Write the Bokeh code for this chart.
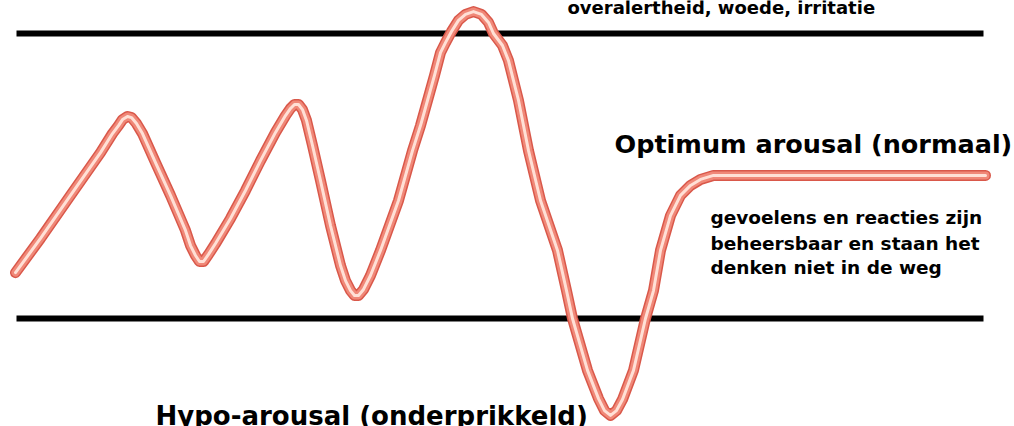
from bokeh.plotting import figure
from bokeh.models import Range1d, ColumnDataSource
from bokeh.core.properties import value
from bokeh.embed import file_html
from bokeh.resources import INLINE

# time (arbitrary units) and arousal level (0 = lower threshold, 100 = upper threshold)
time = [15, 40, 70, 100, 112, 118, 122, 127, 131, 136, 142, 155, 170, 185, 190, 195, 199,
        203, 208, 215, 230, 245, 260, 275, 285, 290, 294, 298, 302, 306, 312, 320, 330,
        340, 345, 350, 354, 358, 363, 370, 380, 398, 412, 420, 427, 434, 440, 445, 451,
        458, 465, 473, 481, 488, 493, 502, 508, 513, 518, 523, 528, 540, 557, 566, 572,
        587, 598, 604, 610, 616, 622, 633, 645, 653, 660, 670, 680, 690, 700, 713, 985]
arousal = [16.1, 28.1, 43.2, 58.2, 64.9, 67.7, 69.8, 70.9, 70.5, 68.4, 64.9, 54.7, 43.2,
           30.9, 25.6, 22.1, 20.0, 20.0, 22.5, 26.3, 35.1, 44.9, 55.4, 65.3, 71.2, 73.7,
           75.1, 75.1, 73.3, 69.5, 60.7, 48.4, 32.6, 18.6, 13.3, 9.8, 8.1, 8.1, 10.2, 15.1,
           23.9, 41.4, 58.9, 67.7, 76.5, 85.3, 93.3, 96.8, 100.7, 104.6, 106.7, 107.7,
           106.7, 103.9, 100.0, 95.8, 90.5, 83.5, 76.5, 67.7, 58.9, 41.4, 23.9, 9.8, 0.0,
           -18.2, -28.1, -32.3, -34.0, -32.3, -28.4, -18.2, 0.0, 9.8, 23.9, 36.1, 43.2,
           46.7, 48.8, 50.2, 50.2]

threshold_levels = [100.0, 0.0]
threshold_start = [16, 16]
threshold_end = [983, 983]

labels = ["overalertheid, woede, irritatie",
          "Optimum arousal (normaal)",
          "Hypo-arousal (onderprikkeld)"]
label_x = [567, 614, 155]
label_y = [109.2, 61.4, -34.3]
label_size = ["18px", "25.5px", "26px"]
label_baseline = ["alphabetic", "middle", "middle"]

para_lines = ["gevoelens en reacties zijn",
              "beheersbaar en staan het",
              "denken niet in de weg"]
para_x = [710, 710, 710]
para_y = [35.4, 26.3, 17.9]

p = figure(width=1014, height=426, output_backend="svg", toolbar_location=None,
           x_range=Range1d(0, 1014), y_range=Range1d(-37.89, 111.58),
           min_border=0, outline_line_color=None, background_fill_color="white",
           border_fill_color="white")
p.axis.visible = False
p.xgrid.visible = False
p.ygrid.visible = False

p.segment(x0=threshold_start, y0=threshold_levels, x1=threshold_end, y1=threshold_levels,
          line_color="black", line_width=6)

src = ColumnDataSource(dict(x=time, y=arousal))
p.line("x", "y", source=src, line_color="#d9584a", line_width=11,
       line_cap="round", line_join="round")
p.line("x", "y", source=src, line_color="#f08878", line_width=8,
       line_cap="round", line_join="round")
p.line("x", "y", source=src, line_color="#ffe0d6", line_width=3,
       line_cap="round", line_join="round")

for t, x, y, s, b in zip(labels, label_x, label_y, label_size, label_baseline):
    p.text(x=[x], y=[y], text=[t], text_font=value("DejaVu Sans"), text_font_style="bold",
           text_font_size=s, text_color="black", text_baseline=b, text_align="left")

p.text(x=para_x, y=para_y, text=para_lines, text_font=value("DejaVu Sans"),
       text_font_style="bold", text_font_size="18.5px", text_color="black",
       text_baseline="middle", text_align="left")

open("out.html", "w").write(file_html(p, INLINE))
